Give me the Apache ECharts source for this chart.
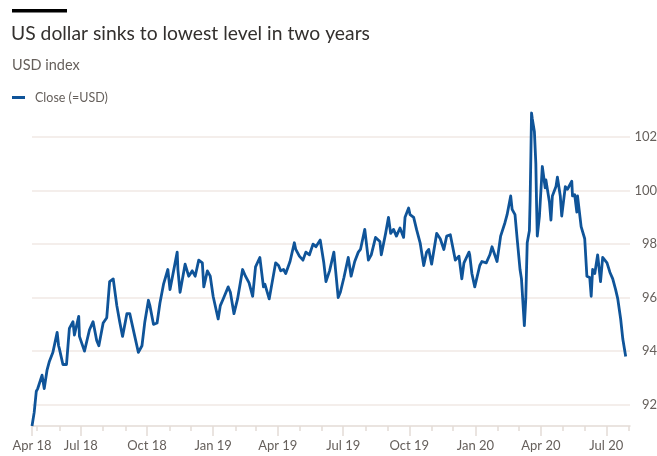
<!DOCTYPE html>
<html>
<head>
<meta charset="utf-8">
<title>US dollar sinks to lowest level in two years</title>
<script src="https://cdn.jsdelivr.net/npm/echarts@6/dist/echarts.min.js"></script>
<style>
  html, body { margin: 0; padding: 0; background: #fff; }
  #chart { width: 657px; height: 456px; }
</style>
</head>
<body>
<div id="chart"></div>
<script>
// Daily axis span (calendar days) and USD index closing levels
var axisStart = '2018-04-24';
var axisEnd = '2020-08-03';

var dates2018 = ['2018-04-24','2018-04-27','2018-04-30','2018-05-02','2018-05-08','2018-05-11','2018-05-15','2018-05-18','2018-05-23','2018-05-29','2018-05-31','2018-06-01','2018-06-06','2018-06-11','2018-06-15','2018-06-20','2018-06-22','2018-06-28','2018-06-29','2018-07-06','2018-07-13','2018-07-18','2018-07-23','2018-07-26','2018-08-01','2018-08-06','2018-08-10','2018-08-15','2018-08-20','2018-08-24','2018-08-28','2018-09-03','2018-09-07','2018-09-14','2018-09-19','2018-09-24','2018-09-28','2018-10-03','2018-10-05','2018-10-10','2018-10-15','2018-10-19','2018-10-24','2018-10-30','2018-11-02','2018-11-12','2018-11-13','2018-11-16','2018-11-23','2018-11-28','2018-12-03','2018-12-07','2018-12-12','2018-12-17','2018-12-19','2018-12-24','2018-12-28'];
var close2018 = [91.2,91.7,92.5,92.6,93.1,92.6,93.3,93.6,93.95,94.7,94.2,94.1,93.5,93.5,94.85,95.1,94.6,95.3,94.55,94.0,94.8,95.1,94.4,94.2,95.05,95.25,96.6,96.7,95.7,95.1,94.55,95.4,95.4,94.55,93.95,94.2,95.1,95.9,95.7,95.0,95.05,95.8,96.5,97.05,96.3,97.7,97.05,96.2,97.25,96.8,97.0,96.8,97.4,97.3,96.4,97.0,96.8];

var dates2019 = ['2019-01-01','2019-01-03','2019-01-08','2019-01-11','2019-01-15','2019-01-22','2019-01-25','2019-01-30','2019-02-04','2019-02-11','2019-02-15','2019-02-20','2019-02-25','2019-02-27','2019-03-01','2019-03-07','2019-03-12','2019-03-14','2019-03-20','2019-03-25','2019-03-29','2019-04-02','2019-04-05','2019-04-09','2019-04-12','2019-04-18','2019-04-24','2019-04-26','2019-05-01','2019-05-06','2019-05-10','2019-05-15','2019-05-20','2019-05-24','2019-05-30','2019-06-04','2019-06-07','2019-06-12','2019-06-18','2019-06-24','2019-06-27','2019-07-02','2019-07-08','2019-07-12','2019-07-17','2019-07-22','2019-07-25','2019-07-31','2019-08-05','2019-08-09','2019-08-15','2019-08-21','2019-08-23','2019-08-29','2019-09-02','2019-09-05','2019-09-09','2019-09-13','2019-09-18','2019-09-23','2019-09-25','2019-09-30','2019-10-02','2019-10-07','2019-10-11','2019-10-16','2019-10-21','2019-10-25','2019-10-28','2019-11-01','2019-11-08','2019-11-13','2019-11-18','2019-11-22','2019-11-27','2019-11-29','2019-12-04','2019-12-09','2019-12-13','2019-12-16','2019-12-23','2019-12-24','2019-12-27','2019-12-31'];
var close2019 = [96.05,96.0,95.2,95.7,95.95,96.4,96.2,95.4,95.95,97.05,96.8,96.55,96.05,96.6,97.15,97.5,96.4,96.5,95.95,96.7,97.3,97.2,97.0,97.05,96.9,97.35,98.05,97.8,97.55,97.4,97.7,97.6,98.0,97.9,98.15,97.3,96.6,97.0,97.7,96.0,96.2,96.75,97.5,96.8,97.35,97.7,97.8,98.55,97.4,97.6,98.25,98.1,97.6,98.4,99.0,98.4,98.55,98.3,98.6,98.25,99.0,99.35,99.1,99.0,98.55,98.05,97.2,97.7,97.8,97.25,98.4,98.2,97.8,98.3,98.35,98.3,97.4,97.55,96.7,97.3,97.7,97.6,96.9,96.4];

var dates2020 = ['2020-01-07','2020-01-10','2020-01-16','2020-01-21','2020-01-24','2020-01-31','2020-02-05','2020-02-11','2020-02-14','2020-02-19','2020-02-21','2020-02-25','2020-02-28','2020-03-03','2020-03-05','2020-03-09','2020-03-11','2020-03-13','2020-03-16','2020-03-17','2020-03-18','2020-03-19','2020-03-20','2020-03-23','2020-03-24','2020-03-25','2020-03-26','2020-03-27','2020-03-30','2020-04-03','2020-04-07','2020-04-08','2020-04-13','2020-04-15','2020-04-17','2020-04-22','2020-04-24','2020-04-28','2020-04-30','2020-05-05','2020-05-08','2020-05-14','2020-05-15','2020-05-18','2020-05-21','2020-05-22','2020-05-27','2020-06-01','2020-06-04','2020-06-08','2020-06-10','2020-06-12','2020-06-15','2020-06-19','2020-06-23','2020-06-26','2020-07-02','2020-07-06','2020-07-10','2020-07-14','2020-07-17','2020-07-21','2020-07-24','2020-07-28'];
var close2020 = [97.2,97.35,97.3,97.6,97.9,97.35,98.3,98.8,99.1,99.8,99.3,99.1,98.2,97.05,96.7,94.95,95.95,98.05,98.5,99.6,101.2,102.9,102.7,102.2,101.6,101.0,99.5,98.3,99.05,100.9,100.1,100.4,99.55,98.9,99.8,100.15,100.5,99.8,99.05,100.15,100.05,100.35,99.8,99.85,99.2,99.8,98.65,98.2,96.8,96.75,96.05,97.05,96.9,97.6,96.6,97.5,97.3,96.95,96.7,96.3,95.95,95.2,94.45,93.8];

var yAxisMin = 91.2;
var yAxisMax = 103.2;
var yTickStep = 2;
var monthNames = ['Jan','Feb','Mar','Apr','May','Jun','Jul','Aug','Sep','Oct','Nov','Dec'];

// Build the calendar-day category list
function pad(n) { return (n < 10 ? '0' : '') + n; }
function toKey(d) { return d.getUTCFullYear() + '-' + pad(d.getUTCMonth() + 1) + '-' + pad(d.getUTCDate()); }
var days = [];
(function () {
  var d = new Date(axisStart + 'T00:00:00Z');
  var end = new Date(axisEnd + 'T00:00:00Z');
  while (d <= end) {
    days.push(toKey(d));
    d = new Date(d.getTime() + 86400000);
  }
})();

function zip(ds, vs) { return ds.map(function (d, i) { return [d, vs[i]]; }); }
var closeSeries = zip(dates2018, close2018).concat(zip(dates2019, close2019), zip(dates2020, close2020));

function isQuarterStart(index, value) {
  if (index === 0) return true;
  var m = +value.slice(5, 7);
  return value.slice(8) === '01' && (m === 1 || m === 4 || m === 7 || m === 10);
}
function isMonthStart(index, value) {
  return value.slice(8) === '01';
}
function quarterLabel(value) {
  return monthNames[+value.slice(5, 7) - 1] + ' ' + value.slice(2, 4);
}

var font = 'Lato, "Noto Sans", sans-serif';
var labelGrey = '#66605c';
var axisGrey = '#e3dcd6';
var gridGrey = '#f0e9e4';

var chart = echarts.init(document.getElementById('chart'), null, { renderer: 'canvas' });
chart.setOption({
  animation: false,
  backgroundColor: '#ffffff',
  graphic: [{
    type: 'rect',
    left: 12, top: 9,
    shape: { width: 55, height: 3.5 },
    style: { fill: '#000000' }
  }],
  title: [{
    text: 'US dollar sinks to lowest level in two years',
    left: 11, top: 24, padding: 0,
    textStyle: { fontFamily: font, fontSize: 19.3, fontWeight: 'normal', color: '#33302e' }
  }, {
    text: 'USD index',
    left: 12, top: 58, padding: 0,
    textStyle: { fontFamily: font, fontSize: 14.5, fontWeight: 'normal', color: '#66605c' }
  }],
  legend: {
    left: 12, top: 91, padding: 0,
    icon: 'rect', itemWidth: 13, itemHeight: 3,
    textStyle: { fontFamily: font, fontSize: 12.5, color: labelGrey, padding: [0, 0, 0, 5] },
    data: ['Close (=USD)']
  },
  grid: { left: 32, right: 27, top: 105, bottom: 30, containLabel: false, outerBoundsMode: 'none' },
  xAxis: [{
    type: 'category',
    data: days,
    boundaryGap: false,
    axisLine: { lineStyle: { color: axisGrey, width: 1.5 } },
    axisTick: { interval: isQuarterStart, length: 10, lineStyle: { color: axisGrey, width: 1.5 } },
    axisLabel: {
      interval: isQuarterStart,
      formatter: quarterLabel,
      margin: 13,
      fontFamily: font, fontSize: 13, color: labelGrey
    },
    splitLine: { show: false }
  }, {
    type: 'category',
    data: days,
    position: 'bottom',
    boundaryGap: false,
    axisLine: { show: false },
    axisTick: { interval: isMonthStart, length: 5, lineStyle: { color: axisGrey, width: 1.5 } },
    axisLabel: { show: false },
    splitLine: { show: false }
  }],
  yAxis: {
    type: 'value',
    position: 'right',
    min: yAxisMin,
    max: yAxisMax,
    minInterval: yTickStep,
    maxInterval: yTickStep,
    splitNumber: 6,
    axisLine: { show: false },
    axisTick: { show: false },
    axisLabel: {
      showMinLabel: false, showMaxLabel: false,
      align: 'right', margin: 27,
      fontFamily: font, fontSize: 13, color: labelGrey
    },
    splitLine: { showMinLine: false, showMaxLine: false, lineStyle: { color: gridGrey, width: 1.5 } }
  },
  series: [{
    name: 'Close (=USD)',
    type: 'line',
    xAxisIndex: 0,
    data: closeSeries,
    showSymbol: false,
    symbol: 'none',
    color: '#0f5499',
    lineStyle: { color: '#0f5499', width: 2.8, join: 'round' }
  }]
});
</script>
</body>
</html>
